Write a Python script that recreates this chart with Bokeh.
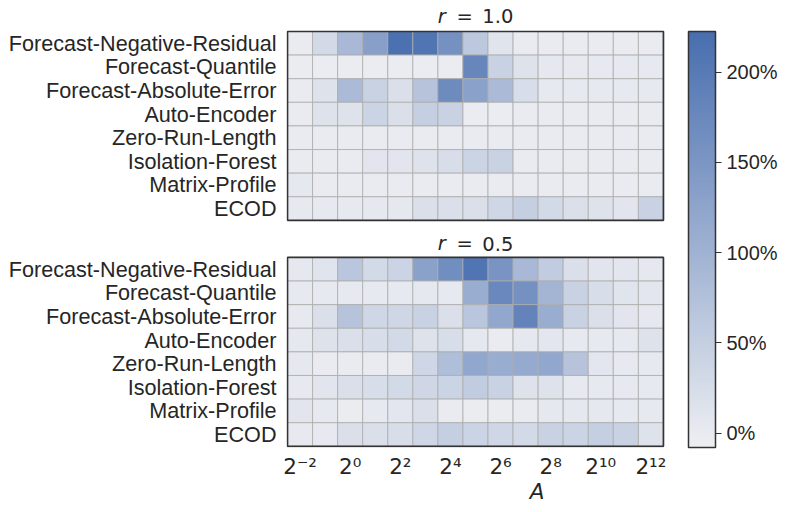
from bokeh.plotting import figure
from bokeh.models import (LinearColorMapper, ColorBar, FixedTicker,
                          ColumnDataSource, PrintfTickFormatter)
from bokeh.core.properties import value
from bokeh.embed import file_html
from bokeh.resources import INLINE

# ---------------- data ----------------
exponents = [-2, -1, 0, 1, 2, 3, 4, 5, 6, 7, 8, 9, 10, 11, 12]
x_labels = ["2\u207b\u00b2", "2\u207b\u00b9", "2\u2070", "2\u00b9", "2\u00b2", "2\u00b3",
            "2\u2074", "2\u2075", "2\u2076", "2\u2077", "2\u2078", "2\u2079",
            "2\u00b9\u2070", "2\u00b9\u00b9", "2\u00b9\u00b2"]
methods = ["Forecast-Negative-Residual", "Forecast-Quantile", "Forecast-Absolute-Error",
           "Auto-Encoder", "Zero-Run-Length", "Isolation-Forest", "Matrix-Profile", "ECOD"]
r_labels = ["1.0", "0.5"]
cbar_ticks = [0, 50, 100, 150, 200]

# values in % (rows follow `methods`, columns follow `exponents`)
vals_r10 = [
    [0, 30, 90, 133, 218, 210, 160, 62, 12, 0, 0, 0, 0, 0, 0],
    [-2, -3, -3, -3, -3, -3, -3, 180, 45, 15, 5, 3, 3, 3, 3],
    [0, 15, 85, 45, 20, 70, 170, 130, 85, 25, 3, 3, 3, 3, 3],
    [0, 15, 15, 40, 20, 50, 45, -3, -3, 0, 0, 0, 0, 0, 0],
    [0, 0, 0, 0, 0, 0, 0, 0, 0, 0, 0, 0, 0, 0, 0],
    [0, 0, 0, 10, 10, 15, 25, 40, 45, 0, 0, 0, 0, 0, 0],
    [5, 0, 0, 0, 0, 0, 0, 0, 0, 0, 0, 0, 0, 0, 0],
    [3, 3, 3, 5, 5, 20, 20, 20, 35, 50, 30, 20, 15, 10, 45],
]
vals_r05 = [
    [5, 12, 65, 30, 40, 130, 165, 210, 155, 90, 55, 20, 10, 8, 5],
    [3, 3, 3, 3, 3, 5, 3, 110, 175, 160, 95, 45, 25, 12, 8],
    [3, 20, 70, 35, 35, 45, 20, 65, 120, 185, 110, 45, 20, 10, 5],
    [5, 15, 20, 25, 30, 15, 25, 5, 0, 5, 8, 3, 3, 3, 15],
    [5, 0, 0, 0, 0, 35, 80, 120, 110, 115, 120, 70, 8, 3, 3],
    [3, 10, 20, 25, 30, 35, 40, 55, 45, 15, 15, 3, 3, 3, 3],
    [10, 3, -2, 3, 8, 20, 0, -2, -2, 0, 5, 5, 5, 3, 3],
    [3, 3, 20, 20, 25, 35, 50, 40, 35, 30, 45, 40, 50, 45, 15],
]

# ---------------- geometry ----------------
ncols = len(exponents)
nrows = len(methods)
GAP = 1.57
top_base = nrows + GAP
PX_X = 25.07    # pixels per column
PX_Y = 23.62    # pixels per row

xs, ys, vs = [], [], []
ytick_pos, ytick_lab = [], []
for vals, base in [(vals_r10, top_base), (vals_r05, 0.0)]:
    for i, row in enumerate(vals):
        yc = round(base + nrows - i - 0.5, 4)
        ytick_pos.append(yc)
        ytick_lab.append(methods[i])
        for j, v in enumerate(row):
            xs.append(j + 0.5)
            ys.append(yc)
            vs.append(v)
src = ColumnDataSource(dict(x=xs, y=ys, v=vs))

# palette: light grey -> seaborn blue
c0 = (238, 239, 242)
c1 = (72, 110, 175)
pal = []
for k in range(256):
    t = k / 255
    pal.append("#%02x%02x%02x" % tuple(int(round(a + (b - a) * t)) for a, b in zip(c0, c1)))
mapper = LinearColorMapper(palette=pal, low=-8, high=222.6)

p = figure(width=788, height=510, x_range=(-0.04, 19.95),
           y_range=(-0.05, 18.84), output_backend="svg",
           toolbar_location=None, min_border_left=286, min_border_top=1,
           min_border_bottom=63, min_border_right=1)
p.outline_line_color = None
p.grid.visible = False
p.background_fill_color = "white"

p.rect(x="x", y="y", width=1, height=1, source=src,
       fill_color={"field": "v", "transform": mapper},
       line_color="#acacac", line_width=0.8)

# panel frames
p.rect(x=[ncols / 2, ncols / 2], y=[nrows / 2, top_base + nrows / 2],
       width=ncols, height=nrows, fill_color=None,
       line_color="#333333", line_width=1.7)

# axes
p.yaxis.ticker = FixedTicker(ticks=ytick_pos)
p.yaxis.major_label_overrides = {pos: lab for pos, lab in zip(ytick_pos, ytick_lab)}
p.yaxis.major_label_text_font = "Liberation Sans"
p.yaxis.major_label_text_font_size = "21.6px"
p.yaxis.major_label_text_color = "#262626"
p.yaxis.major_label_standoff = 10

xt = [j + 0.5 for j, e in enumerate(exponents) if e % 2 == 0]
p.xaxis.ticker = FixedTicker(ticks=xt)
p.xaxis.major_label_overrides = {j + 0.5: x_labels[j] for j, e in enumerate(exponents) if e % 2 == 0}
p.xaxis.major_label_text_font = "DejaVu Sans"
p.xaxis.major_label_text_font_size = "21.5px"
p.xaxis.major_label_text_color = "#262626"
p.xaxis.major_label_standoff = 6
p.xaxis.axis_label = "A"
p.xaxis.axis_label_text_font = "DejaVu Sans"
p.xaxis.axis_label_text_font_style = "italic"
p.xaxis.axis_label_text_font_size = "21.5px"
p.xaxis.axis_label_text_color = "#262626"
p.xaxis.axis_label_standoff = -3

for ax in (p.xaxis, p.yaxis):
    ax.axis_line_color = None
    ax.major_tick_line_color = None
    ax.minor_tick_line_color = None
    ax.major_tick_out = 0
    ax.minor_tick_out = 0

# panel titles ("r" italic, "=" and value upright); centred pieces, data units
t_y = [top_base + nrows + 15.4 / PX_Y, nrows + 13.5 / PX_Y]
title_style = dict(text_font=value("DejaVu Sans"), text_font_size="19.5px",
                   text_align="center", text_baseline="middle", text_color="#262626")
p.text(x=[ncols / 2 - 33.7 / PX_X] * 2, y=t_y, text=["r", "r"],
       text_font_style="italic", **title_style)
p.text(x=[ncols / 2 - 10.8 / PX_X] * 2, y=t_y, text=["=", "="], **title_style)
p.text(x=[ncols / 2 + 22.4 / PX_X] * 2, y=t_y, text=r_labels, **title_style)

cb = ColorBar(color_mapper=mapper, ticker=FixedTicker(ticks=cbar_ticks),
              formatter=PrintfTickFormatter(format="%d%%"), width=27, height=416,
              location=(402, 0), padding=0, margin=0,
              bar_line_color="#333333", bar_line_width=1.5,
              major_tick_line_color="#333333", major_tick_out=6, major_tick_in=0,
              minor_tick_line_color=None, label_standoff=5,
              major_label_text_font="Liberation Sans",
              major_label_text_font_size="20px",
              major_label_text_color="#262626",
              background_fill_color=None, border_line_color=None)
p.add_layout(cb, "center")

open("out.html", "w").write(file_html(p, INLINE))
